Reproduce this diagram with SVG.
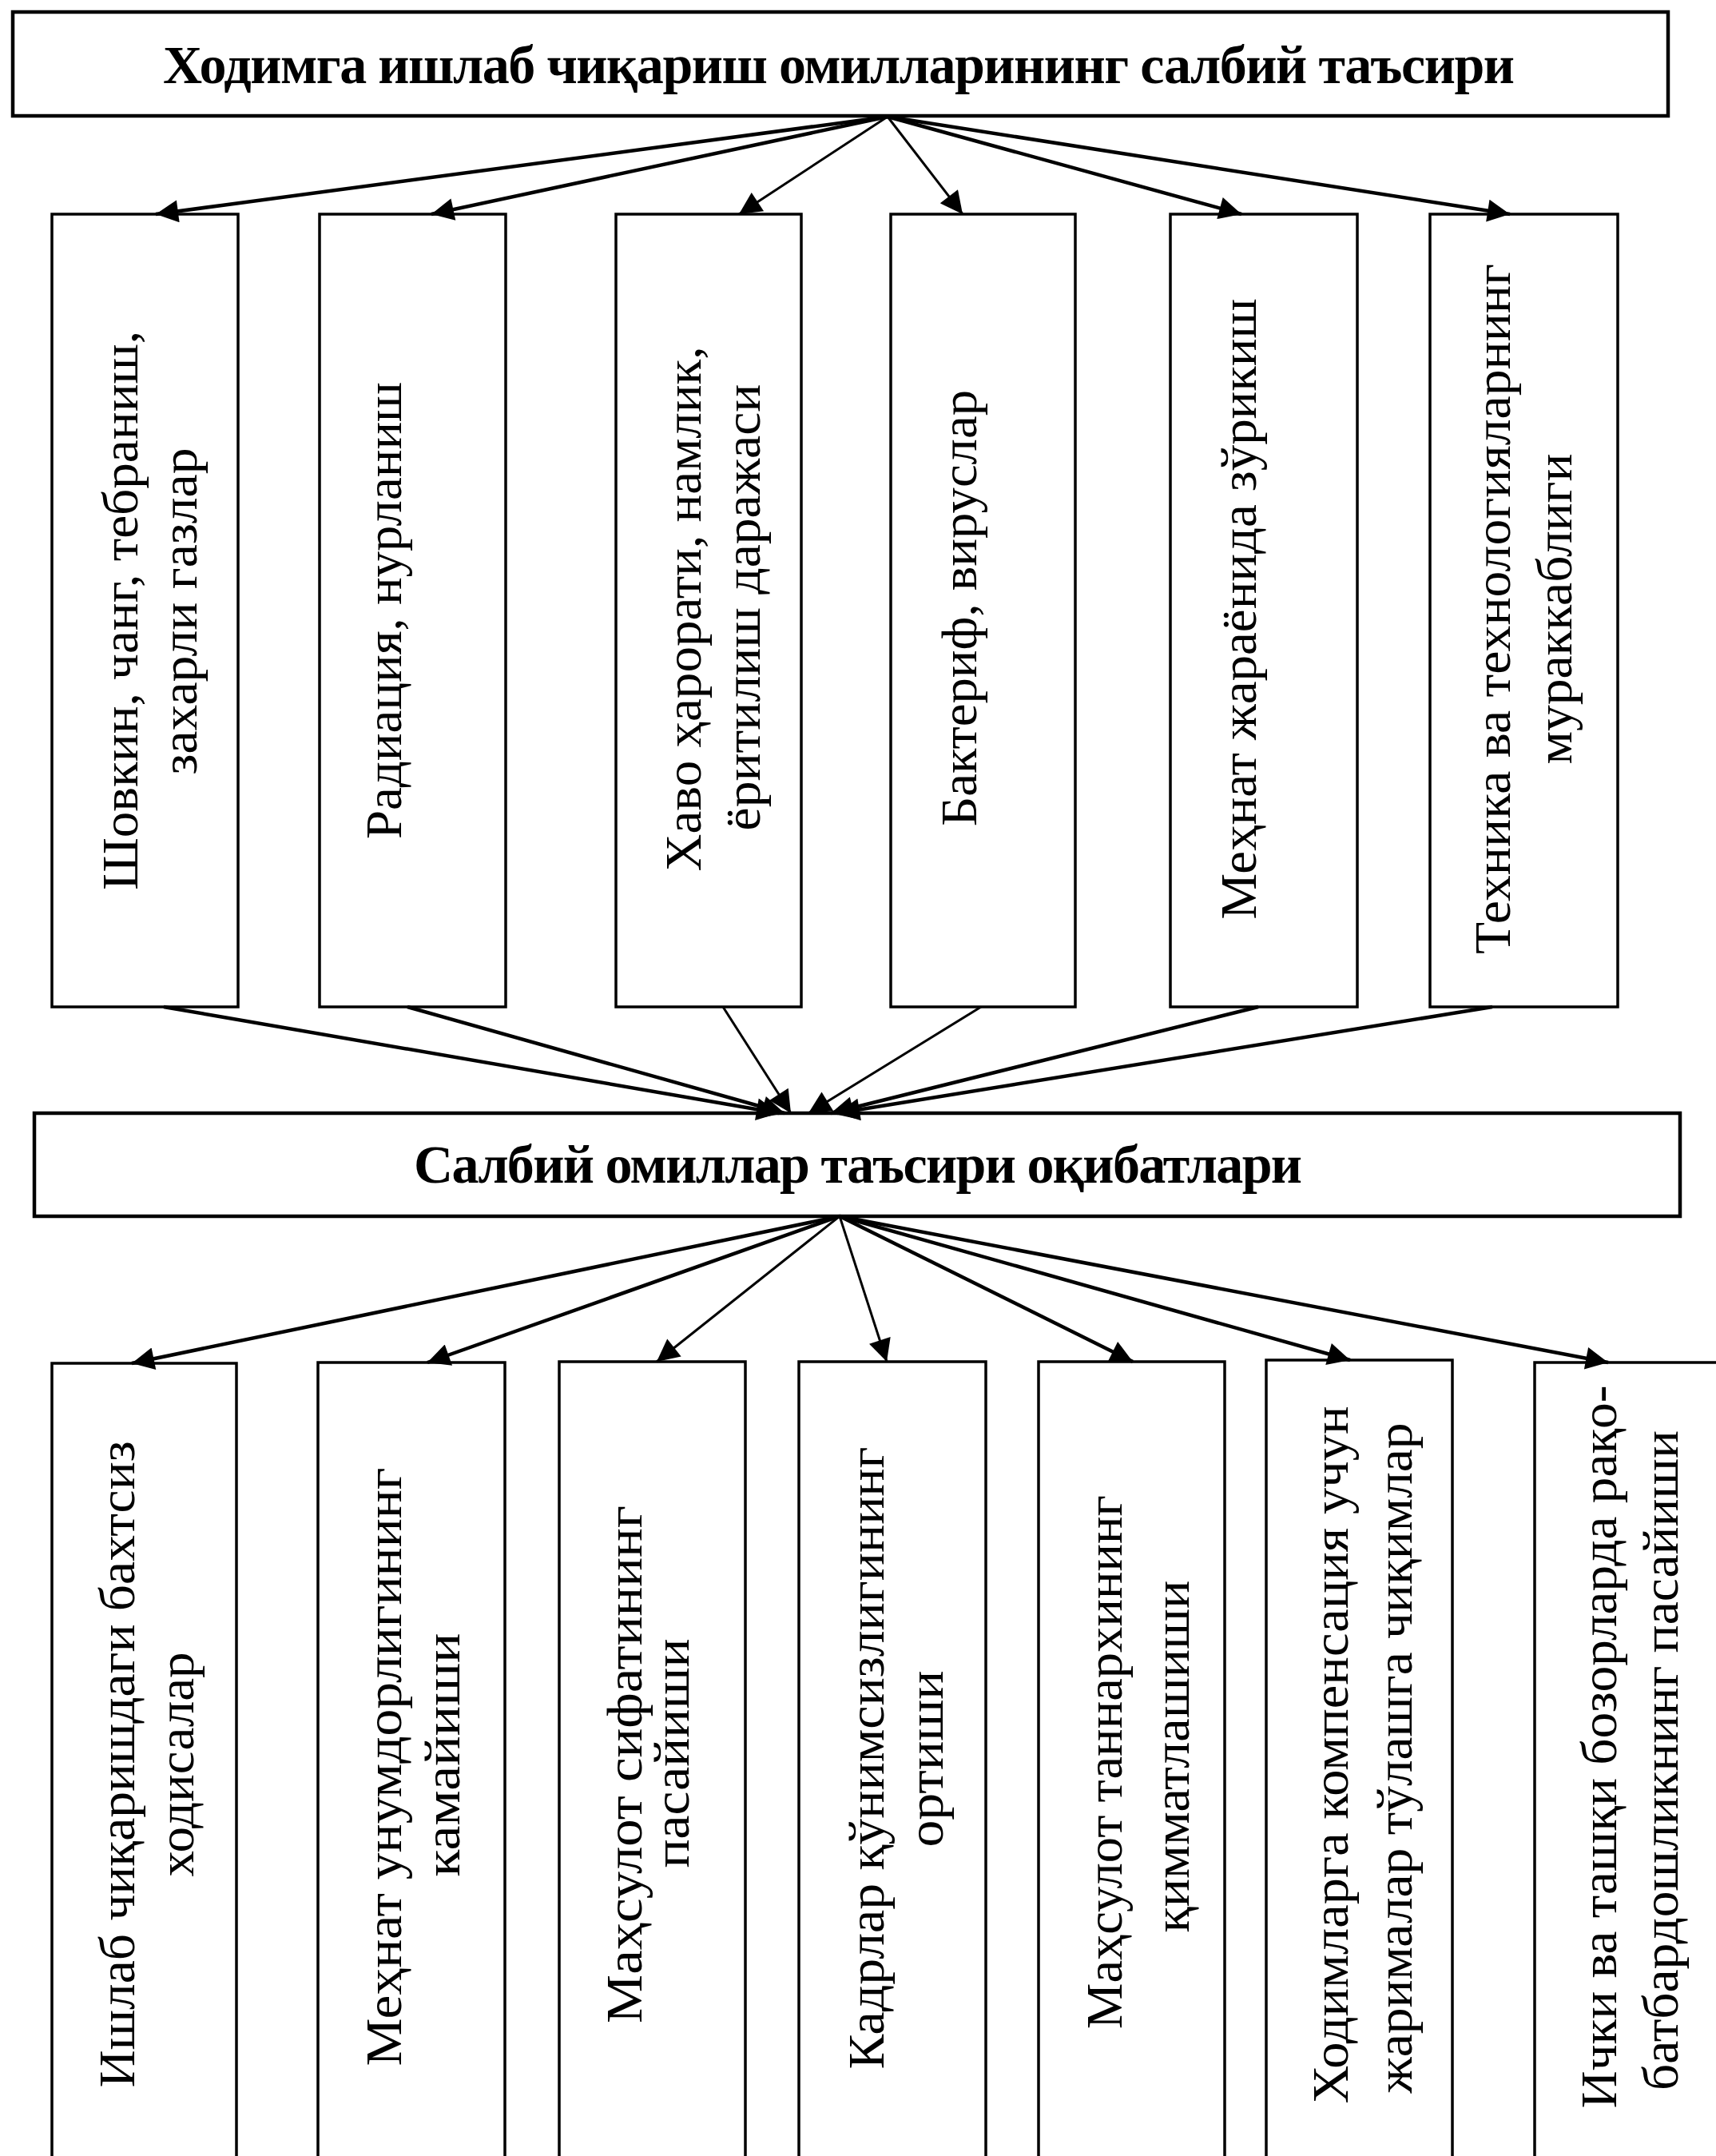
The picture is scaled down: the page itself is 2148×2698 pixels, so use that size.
<svg xmlns="http://www.w3.org/2000/svg" width="2148" height="2698" viewBox="0 0 2148 2698">
<style>
.box{fill:#fff;stroke:#000;stroke-width:3.5}
.tb{fill:#fff;stroke:#000;stroke-width:4.5}
.ttl{font-family:"Liberation Serif","Times New Roman",serif;font-weight:bold;font-size:68px;fill:#000}
.v{font-family:"Liberation Serif","Times New Roman",serif;font-size:64px;fill:#000;text-anchor:middle}
.c{stroke:#000;stroke-width:4.5;fill:none;marker-end:url(#ah)}
.c2{stroke:#000;stroke-width:3;fill:none;marker-end:url(#ah)}
</style>
<defs>
<marker id="ah" viewBox="0 0 10 10" refX="10" refY="5" markerWidth="40" markerHeight="28" markerUnits="userSpaceOnUse" orient="auto">
<path d="M0,0 L10,5 L0,10 z" fill="#000"/>
</marker>
</defs>
<rect width="2148" height="2698" fill="#fff"/>

<g id="top">
<rect class="tb" x="16" y="15" width="2072" height="130"/>
<text class="ttl" x="204" y="104" textLength="1692" lengthAdjust="spacing">Ходимга ишлаб чиқариш омилларининг салбий таъсири</text>
</g>

<g id="u1">
<rect class="box" x="65" y="268" width="233" height="992"/>
<text class="v" transform="translate(172,764) rotate(-90)" textLength="700" lengthAdjust="spacingAndGlyphs">Шовкин, чанг, тебраниш,</text>
<text class="v" transform="translate(246,765) rotate(-90)" textLength="409" lengthAdjust="spacingAndGlyphs">захарли газлар</text>
</g>
<g id="u2">
<rect class="box" x="400" y="268" width="233" height="992"/>
<text class="v" transform="translate(502,764) rotate(-90)" textLength="572" lengthAdjust="spacingAndGlyphs">Радиация, нурланиш</text>
</g>
<g id="u3">
<rect class="box" x="771" y="268" width="232" height="992"/>
<text class="v" transform="translate(877,762) rotate(-90)" textLength="657" lengthAdjust="spacingAndGlyphs">Хаво ҳарорати, намлик,</text>
<text class="v" transform="translate(951,760) rotate(-90)" textLength="559" lengthAdjust="spacingAndGlyphs">ёритилиш даражаси</text>
</g>
<g id="u4">
<rect class="box" x="1115" y="268" width="231" height="992"/>
<text class="v" transform="translate(1222,761) rotate(-90)" textLength="546" lengthAdjust="spacingAndGlyphs">Бактериф, вируслар</text>
</g>
<g id="u5">
<rect class="box" x="1465" y="268" width="234" height="992"/>
<text class="v" transform="translate(1572,762) rotate(-90)" textLength="777" lengthAdjust="spacingAndGlyphs">Меҳнат жараёнида зўрикиш</text>
</g>
<g id="u6">
<rect class="box" x="1790" y="268" width="235" height="992"/>
<text class="v" transform="translate(1890,762) rotate(-90)" textLength="864" lengthAdjust="spacingAndGlyphs">Техника ва технологияларнинг</text>
<text class="v" transform="translate(1967,762) rotate(-90)" textLength="389" lengthAdjust="spacingAndGlyphs">мураккаблиги</text>
</g>

<g id="mid">
<rect class="tb" x="43" y="1393" width="2060" height="129"/>
<text class="ttl" x="518" y="1480" textLength="1112" lengthAdjust="spacing">Салбий омиллар таъсири оқибатлари</text>
</g>

<g id="l1">
<rect class="box" x="65" y="1706" width="231" height="1014"/>
<text class="v" transform="translate(168,2208) rotate(-90)" textLength="809" lengthAdjust="spacingAndGlyphs">Ишлаб чиқаришдаги бахтсиз</text>
<text class="v" transform="translate(242,2208) rotate(-90)" textLength="281" lengthAdjust="spacingAndGlyphs">ходисалар</text>
</g>
<g id="l2">
<rect class="box" x="398" y="1705" width="234" height="1015"/>
<text class="v" transform="translate(502,2211) rotate(-90)" textLength="749" lengthAdjust="spacingAndGlyphs">Меҳнат унумдорлигининг</text>
<text class="v" transform="translate(575,2196) rotate(-90)" textLength="305" lengthAdjust="spacingAndGlyphs">камайиши</text>
</g>
<g id="l3">
<rect class="box" x="700" y="1704" width="233" height="1016"/>
<text class="v" transform="translate(803,2208) rotate(-90)" textLength="648" lengthAdjust="spacingAndGlyphs">Маҳсулот сифатининг</text>
<text class="v" transform="translate(862,2194) rotate(-90)" textLength="287" lengthAdjust="spacingAndGlyphs">пасайиши</text>
</g>
<g id="l4">
<rect class="box" x="1000" y="1704" width="234" height="1016"/>
<text class="v" transform="translate(1106,2200) rotate(-90)" textLength="779" lengthAdjust="spacingAndGlyphs">Кадрлар қўнимсизлигининг</text>
<text class="v" transform="translate(1180,2201) rotate(-90)" textLength="221" lengthAdjust="spacingAndGlyphs">ортиши</text>
</g>
<g id="l5">
<rect class="box" x="1300" y="1704" width="233" height="1016"/>
<text class="v" transform="translate(1404,2205) rotate(-90)" textLength="668" lengthAdjust="spacingAndGlyphs">Маҳсулот таннархининг</text>
<text class="v" transform="translate(1488,2198) rotate(-90)" textLength="441" lengthAdjust="spacingAndGlyphs">қимматлашиши</text>
</g>
<g id="l6">
<rect class="box" x="1585" y="1702" width="233" height="1018"/>
<text class="v" transform="translate(1687,2196) rotate(-90)" textLength="873" lengthAdjust="spacingAndGlyphs">Ходимларга компенсация учун</text>
<text class="v" transform="translate(1767,2200) rotate(-90)" textLength="839" lengthAdjust="spacingAndGlyphs">жарималар тўлашга чиқимлар</text>
</g>
<g id="l7">
<rect class="box" x="1921" y="1705" width="240" height="1015"/>
<text class="v" transform="translate(2023,2186) rotate(-90)" textLength="905" lengthAdjust="spacingAndGlyphs">Ички ва ташқи бозорларда рақо-</text>
<text class="v" transform="translate(2100,2203) rotate(-90)" textLength="826" lengthAdjust="spacingAndGlyphs">батбардошликнинг пасайиши</text>
</g>

<g id="connectors">
<line class="c" x1="1111" y1="146" x2="195" y2="268"/>
<line class="c" x1="1111" y1="146" x2="540" y2="268"/>
<line class="c2" x1="1111" y1="146" x2="925" y2="268"/>
<line class="c2" x1="1111" y1="146" x2="1205" y2="268"/>
<line class="c" x1="1111" y1="146" x2="1554" y2="268"/>
<line class="c" x1="1111" y1="146" x2="1890" y2="268"/>

<line class="c" x1="205" y1="1260" x2="975" y2="1393"/>
<line class="c" x1="510" y1="1260" x2="982" y2="1393"/>
<line class="c2" x1="905" y1="1260" x2="990" y2="1393"/>
<line class="c2" x1="1228" y1="1260" x2="1012" y2="1393"/>
<line class="c" x1="1575" y1="1260" x2="1040" y2="1393"/>
<line class="c" x1="1868" y1="1260" x2="1048" y2="1393"/>

<line class="c" x1="1051" y1="1522" x2="165" y2="1706"/>
<line class="c" x1="1051" y1="1522" x2="535" y2="1705"/>
<line class="c2" x1="1051" y1="1522" x2="822" y2="1704"/>
<line class="c2" x1="1051" y1="1522" x2="1110" y2="1704"/>
<line class="c" x1="1051" y1="1522" x2="1418" y2="1704"/>
<line class="c" x1="1051" y1="1522" x2="1690" y2="1702"/>
<line class="c" x1="1051" y1="1522" x2="2013" y2="1705"/>
</g>
</svg>
